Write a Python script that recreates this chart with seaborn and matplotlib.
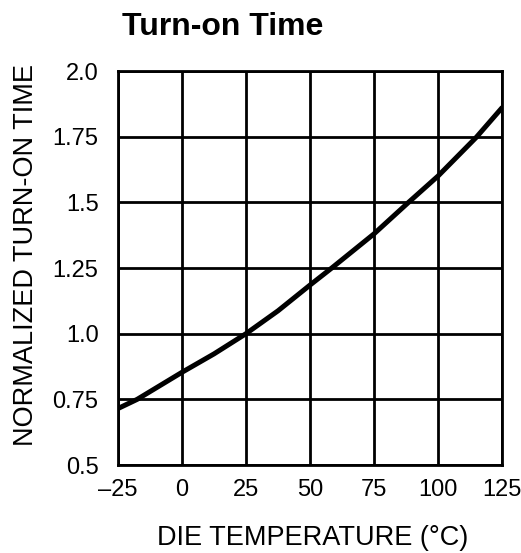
import pandas as pd
import matplotlib.pyplot as plt
import seaborn as sns

# values
temp_c = [-25, -17.5, 0, 12.5, 25, 37.5, 50, 58.5, 75, 88.5, 100, 115, 125]
turn_on = [0.715, 0.75, 0.853, 0.923, 1.0, 1.087, 1.185, 1.25, 1.38, 1.5, 1.6, 1.748, 1.86]
x_ticks = [-25, 0, 25, 50, 75, 100, 125]
x_labels = ['\u201325', '0', '25', '50', '75', '100', '125']
y_ticks = [0.5, 0.75, 1.0, 1.25, 1.5, 1.75, 2.0]
y_labels = ['0.5', '0.75', '1.0', '1.25', '1.5', '1.75', '2.0']

sns.set_style('white')
plt.rcParams['font.family'] = ['Liberation Sans', 'DejaVu Sans']
plt.rcParams['text.color'] = 'black'
plt.rcParams['axes.labelcolor'] = 'black'
plt.rcParams['xtick.color'] = 'black'
plt.rcParams['ytick.color'] = 'black'

df = pd.DataFrame({'temp': temp_c, 'val': turn_on})

fig = plt.figure(figsize=(5.21, 5.53), dpi=100)
ax = fig.add_axes([118/521, 1-465/553, (502-118)/521, (465-71)/553])

sns.lineplot(data=df, x='temp', y='val', color='black', linewidth=3.6, ax=ax)

ax.set_xlim(-25, 125)
ax.set_ylim(0.5, 2.0)
ax.set_xticks(x_ticks)
ax.set_xticklabels(x_labels, fontsize=17)
ax.set_yticks(y_ticks)
ax.set_yticklabels(y_labels, fontsize=17)
ax.tick_params(axis='x', length=0, pad=10)
ax.tick_params(axis='y', length=0, pad=14)
ax.grid(True, color='black', linewidth=2)
for s in ax.spines.values():
    s.set_color('black')
    s.set_linewidth(2)

ax.set_xlabel('DIE TEMPERATURE (\u00b0C)', fontsize=19.5)
ax.set_ylabel('NORMALIZED TURN-ON TIME', fontsize=19.5)
ax.xaxis.set_label_coords(0.506, -0.152)
ax.yaxis.set_label_coords(-0.205, 0.534)

fig.text(223/521, 1-35/553, 'Turn-on Time', fontsize=23, fontweight='bold',
         ha='center', va='baseline')

plt.savefig('out.png', dpi=100)
